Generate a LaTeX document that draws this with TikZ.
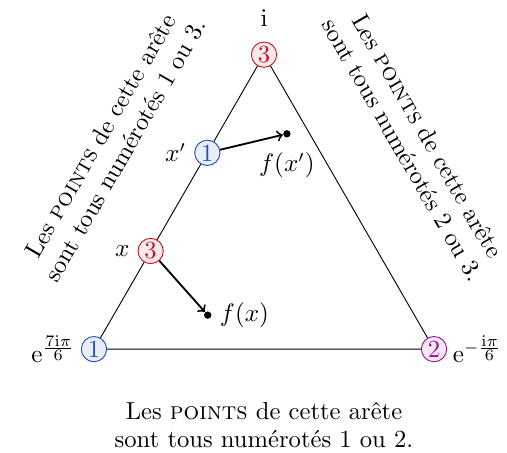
\documentclass[tikz,border=0pt]{standalone}
\usetikzlibrary{calc}
\definecolor{bleu}{RGB}{35,75,185}
\definecolor{rouge}{RGB}{185,25,35}
\definecolor{pourpre}{RGB}{145,20,145}
\begin{document}
\begin{tikzpicture}[
    every node/.style={font=\fontsize{10.7}{12.4}\selectfont},
    sommet/.style={circle,draw=#1,fill=#1!10,text=#1,inner sep=0pt,minimum size=11pt},
    fleche/.style={->,thick},
    pt/.style={circle,fill,inner sep=0pt,minimum size=3.2pt}]
  \useasboundingbox (-4.034,-3.087) rectangle (3.713,3.835);
  % Sommets du triangle
  \node[sommet=bleu,label={[xshift=1pt]left:$\mathrm{e}^{\frac{\scriptstyle 7\mathrm{i}\pi}{\scriptstyle 6}}$}] (A) at (210:3) {1};
  \node[sommet=rouge,label={[label distance=3pt]above:$\mathrm{i}$}] (B) at (90:3) {3};
  \node[sommet=pourpre,label={[xshift=-1pt]right:$\mathrm{e}^{-\frac{\scriptstyle\mathrm{i}\pi}{\scriptstyle 6}}$}] (C) at (-30:3) {2};

  % Points x et x' sur l'arete gauche
  \node[sommet=rouge,label={left:$x$}] (x) at ($(A)!1/3!(B)$) {3};
  \node[sommet=bleu,label={left:$x'$}] (xp) at ($(A)!2/3!(B)$) {1};

  % Aretes
  \draw (A) -- (x) -- (xp) -- (B) -- (C) -- (A);

  % Images f(x) et f(x')
  \node[pt,label={right:$f(x)$}] (fx) at (-0.86,-0.98) {};
  \node[pt,label={[label distance=3pt]below:$f(x')$}] (fxp) at (0.35,1.79) {};
  \draw[fleche] (x) -- (fx);
  \draw[fleche] (xp) -- (fxp);

  % Textes le long des aretes
  \node[rotate=60,align=center] (gauche) at (-2.31,1.65)
    {Les \textsc{points} de cette arête\\sont tous numérotés 1 ou 3.};
  \node[rotate=-60,align=center] (droite) at (2.31,1.65)
    {Les \textsc{points} de cette arête\\sont tous numérotés 2 ou 3.};
  \node[align=center] (bas) at (0,-2.66)
    {Les \textsc{points} de cette arête\\sont tous numérotés 1 ou 2.};
\end{tikzpicture}
\end{document}
